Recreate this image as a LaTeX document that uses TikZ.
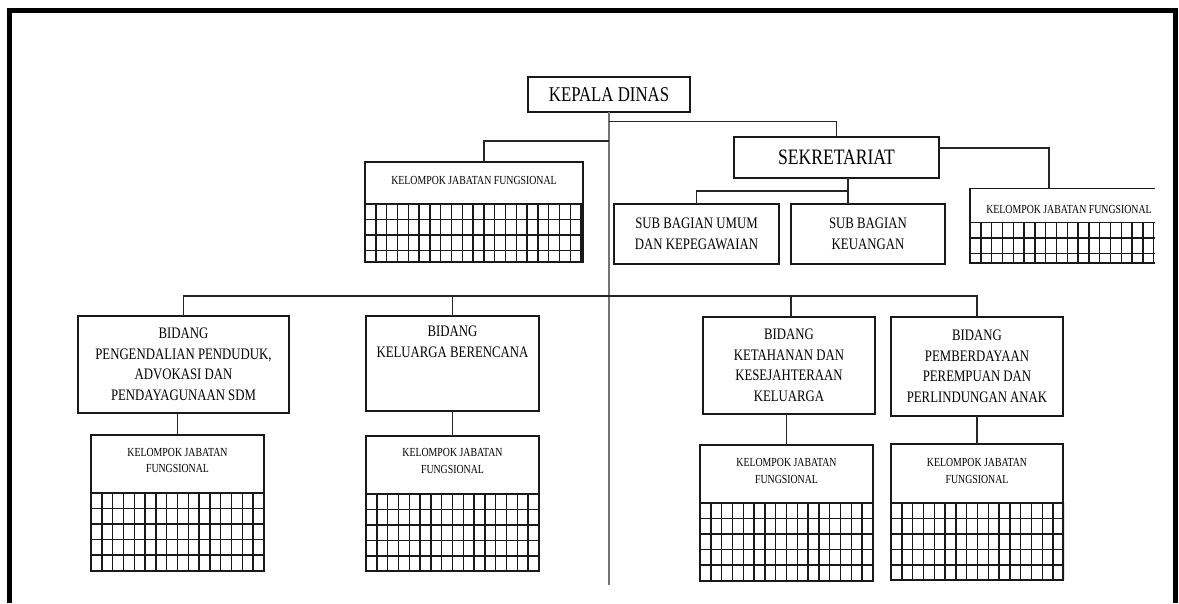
\documentclass[tikz,border=0pt]{standalone}
\usepackage{fontspec}
\setmainfont[FakeStretch=0.8]{Liberation Serif}
\newcommand\kjgrid[4]{%
  \begin{scope}
    \clip (#1-1,#2) rectangle (#3+1,#4+1);
    \foreach \gi in {0,...,21} {\draw[gridl] ({#1+\gi*10.8},#2) -- ({#1+\gi*10.8},#4);}
    \foreach \gj in {0,...,6} {\draw[gridl] (#1,{#2+\gj*15.5}) -- (#3,{#2+\gj*15.5});}
  \end{scope}}
\begin{document}
\begin{tikzpicture}[x=1pt,y=-1pt,
  boxl/.style={draw=black!90, line width=1.5pt},
  ubox/.style={boxl, fill=white, inner sep=0pt, outer sep=0pt, rectangle},
  conn/.style={draw=black!85, line width=1.3pt},
  trunk/.style={draw=black!55, line width=1.5pt},
  gridl/.style={draw=black!90, line width=1.4pt},
  big/.style={font=\fontsize{21}{24}\selectfont, align=center},
  mid/.style={font=\fontsize{16}{20.5}\selectfont, align=center},
  sml/.style={font=\fontsize{12.3}{16.5}\selectfont, align=center, inner sep=0pt}]
\useasboundingbox (0,0) rectangle (1179,603);
\fill[white] (0,0) rectangle (1179,603);
% frame
\draw[line width=5pt, line join=miter] (9,603) -- (9,10) -- (1175,10) -- (1175,603);

% top level
\node[ubox, big, minimum width=162pt, minimum height=35pt] (kd) at (609,94.5) {KEPALA DINAS};
\node[ubox, big, font=\fontsize{22}{26}\selectfont, minimum width=205pt, minimum height=41pt] (sek) at (836.5,157.5) {SEKRETARIAT};
\node[ubox, mid, minimum width=165pt, minimum height=60pt] (umum) at (696.5,234) {SUB BAGIAN UMUM\\DAN KEPEGAWAIAN};
\node[ubox, mid, minimum width=154pt, minimum height=60pt] (keu) at (868,234) {SUB BAGIAN\\KEUANGAN};

% left upper KJF
\node[ubox, minimum width=218pt, minimum height=42pt] (kjfA) at (474,183) {};
\node[sml] (kjfAt) at (474,180) {KELOMPOK JABATAN FUNGSIONAL};
\kjgrid{365}{204}{583}{262}
\draw[boxl] (365,204) -- (365,262) -- (583,262) -- (583,204);

% right upper KJF (cut at right)
\node[inner sep=0pt, outer sep=0pt, minimum width=185pt, minimum height=34pt] (kjfB) at (1062.5,205.5) {};
\draw[boxl] (kjfB.north east) -- (kjfB.north west) -- (kjfB.south west) -- (kjfB.south east);
\node[sml] (kjfBt) at (1069,209) {KELOMPOK JABATAN FUNGSIONAL};
\kjgrid{970}{222.5}{1155}{263}
\draw[boxl] (970,222.5) -- (970,263) -- (1155,263);

% bidang
\node[ubox, mid, minimum width=211pt, minimum height=97pt] (b1) at (183.5,364.5) {BIDANG\\PENGENDALIAN PENDUDUK,\\ADVOKASI DAN\\PENDAYAGUNAAN SDM};
\node[ubox, minimum width=173pt, minimum height=95pt] (b2) at (452.5,363.5) {};
\node[mid, inner sep=0pt] (b2t) at (452.5,342) {BIDANG\\KELUARGA BERENCANA};
\node[ubox, mid, minimum width=172pt, minimum height=97pt] (b3) at (789,365.5) {BIDANG\\KETAHANAN DAN\\KESEJAHTERAAN\\KELUARGA};
\node[ubox, mid, minimum width=172pt, minimum height=99pt] (b4) at (977,366.5) {BIDANG\\PEMBERDAYAAN\\PEREMPUAN DAN\\PERLINDUNGAN ANAK};

% lower KJF
\node[ubox, minimum width=173pt, minimum height=58pt] (k1) at (177.5,464) {};
\node[sml] (k1t) at (177.5,460.5) {KELOMPOK JABATAN\\FUNGSIONAL};
\kjgrid{91}{493}{264}{571}
\draw[boxl] (91,493) -- (91,571) -- (264,571) -- (264,493);

\node[ubox, minimum width=173pt, minimum height=58pt] (k2) at (452.5,465) {};
\node[sml] (k2t) at (452.5,461) {KELOMPOK JABATAN\\FUNGSIONAL};
\kjgrid{366}{494}{539}{571}
\draw[boxl] (366,494) -- (366,571) -- (539,571) -- (539,494);

\node[ubox, minimum width=173pt, minimum height=58pt] (k3) at (786.5,474) {};
\node[sml] (k3t) at (786.5,471) {KELOMPOK JABATAN\\FUNGSIONAL};
\kjgrid{700}{503}{873}{581}
\draw[boxl] (700,503) -- (700,581) -- (873,581) -- (873,503);

\node[ubox, minimum width=172pt, minimum height=59pt] (k4) at (977,473.5) {};
\node[sml] (k4t) at (977,471) {KELOMPOK JABATAN\\FUNGSIONAL};
\kjgrid{891}{503}{1063}{580}
\draw[boxl] (891,503) -- (891,580) -- (1063,580) -- (1063,503);

% connectors
\coordinate (tend) at (609,585);
\coordinate (jl) at (609,141);
\coordinate (jr) at (609,121.5);
\draw[trunk] (kd.south) -- (tend);
\draw[conn] (jl) -| ([xshift=10pt]kjfA.north);
\draw[conn] (jr) -| (sek.north);
\draw[conn] ([yshift=9.5pt]sek.east) -| ([xshift=-13.5pt]kjfB.north);
\draw[conn] ([xshift=11.5pt]sek.south) -- ([xshift=-20pt]keu.north);
\draw[conn] (umum.north) |- ([xshift=11.5pt,yshift=-13pt]sek.south);
\draw[conn] (b1.north) -- ++(0,-20) -| (b4.north);
\draw[conn] (b2.north) -- ++(0,-20);
\draw[conn] ([xshift=2pt]b3.north) -- ++(0,-21);
\draw[conn] (k1.north) -- (k1.north |- b1.south);
\draw[conn] (k2.north) -- (k2.north |- b2.south);
\draw[conn] (k3.north) -- (k3.north |- b3.south);
\draw[conn] (k4.north) -- (k4.north |- b4.south);
\end{tikzpicture}
\end{document}
